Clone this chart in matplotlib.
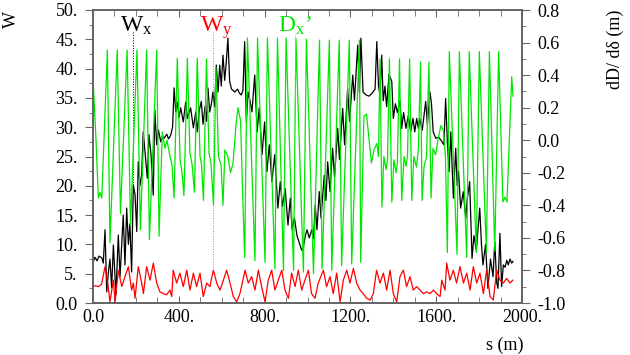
import numpy as np
import matplotlib
matplotlib.use("Agg")
import matplotlib.pyplot as plt
from matplotlib.ticker import MultipleLocator
from matplotlib.transforms import blended_transform_factory

plt.rcParams['font.family'] = ['Liberation Serif', 'DejaVu Serif']
plt.rcParams['mathtext.fontset'] = 'custom'
plt.rcParams['mathtext.rm'] = 'Liberation Serif'
plt.rcParams['mathtext.it'] = 'Liberation Serif:italic'

# chromatic function W_x (s [m], W)
wx_pts = [(1, 7.0), (9, 7.8), (19, 7.2), (28, 8.0), (41, 7.7), (48, 6.8), (56, 12.5),
          (64, 1.9), (71, 5.0), (79, 7.5), (87, 2.6), (95, 9.9), (107, 1.4), (118, 11.6),
          (126, 4.5), (141, 15.0), (149, 6.5), (157, 16.2), (165, 10.0), (172, 13.5),
          (180, 5.3), (188, 20.1), (196, 18.5), (204, 12.2), (211, 24.1), (219, 20.0),
          (227, 22.0), (234, 29.2), (242, 26.0), (253, 21.3), (261, 28.7), (270, 25.5),
          (281, 18.4), (288, 33.0), (297, 27.0), (305, 29.5), (316, 27.5), (324, 28.5),
          (331, 28.1), (344, 28.8), (352, 28.0), (362, 28.6), (371, 30.0), (378, 36.7),
          (386, 32.6), (393, 34.3), (401, 31.7), (409, 33.3), (421, 30.9), (432, 34.3),
          (440, 31.5), (455, 33.3), (468, 29.9), (479, 32.6), (486, 29.2), (496, 33.0),
          (505, 34.4), (513, 30.5), (522, 33.5), (529, 31.0), (536, 36.7), (544, 32.6),
          (552, 34.0), (559, 36.0), (567, 33.5), (575, 40.6), (583, 36.0), (591, 40.6),
          (598, 37.0), (606, 42.3), (614, 38.0), (621, 41.0), (629, 45.2), (637, 37.8),
          (646, 36.5), (661, 36.0), (674, 36.5), (683, 35.8), (691, 35.5), (699, 36.3),
          (707, 44.6), (715, 30.9), (723, 36.0), (732, 34.5), (741, 32.6), (754, 38.9),
          (765, 29.2), (775, 33.3), (788, 25.3), (800, 30.9), (811, 22.4), (822, 27.0),
          (834, 20.7), (847, 25.3), (862, 16.2), (873, 20.7), (883, 16.5), (896, 19.5),
          (909, 13.3), (920, 17.9), (928, 12.5), (939, 14.5), (951, 11.5), (960, 10.5),
          (973, 9.0), (981, 9.6), (990, 11.5), (998, 12.5), (1008, 11.1), (1020, 12.5),
          (1028, 11.0), (1036, 16.7), (1044, 12.5), (1055, 19.0), (1063, 14.5), (1078, 21.8),
          (1086, 17.5), (1094, 24.1), (1105, 19.0), (1117, 26.4), (1126, 21.5), (1141, 29.8),
          (1149, 24.5), (1164, 33.2), (1173, 27.0), (1187, 36.6), (1196, 31.0), (1211, 38.9),
          (1219, 34.6), (1234, 44.0), (1242, 36.0), (1249, 45.2), (1259, 36.0), (1273, 35.5),
          (1287, 35.3), (1301, 35.8), (1315, 36.5), (1323, 44.6), (1331, 37.0), (1338, 35.5),
          (1346, 42.3), (1353, 34.5), (1361, 37.0), (1369, 33.5), (1380, 39.0), (1393, 37.8),
          (1400, 31.5), (1410, 34.0), (1419, 32.5), (1431, 34.5), (1439, 29.8), (1448, 32.5),
          (1459, 29.8), (1470, 32.0), (1481, 29.3), (1492, 31.5), (1500, 29.2), (1509, 31.5),
          (1517, 29.8), (1523, 31.5), (1535, 29.5), (1551, 34.4), (1559, 30.5), (1571, 36.0),
          (1578, 34.0), (1586, 29.2), (1598, 28.1), (1611, 28.3), (1622, 27.8), (1636, 27.0),
          (1644, 34.9), (1652, 27.5), (1660, 22.4), (1668, 29.2), (1680, 17.9), (1691, 26.4),
          (1698, 20.0), (1704, 22.5), (1714, 16.2), (1726, 19.0), (1738, 14.5), (1744, 17.5),
          (1756, 20.7), (1767, 7.6), (1776, 11.5), (1787, 9.0), (1803, 16.2), (1811, 10.0),
          (1818, 6.5), (1830, 10.0), (1841, 2.5), (1853, 7.5), (1865, 4.5), (1873, 10.5),
          (1882, 3.5), (1888, 2.5), (1897, 11.9), (1905, 2.8), (1913, 6.5), (1921, 6.1),
          (1929, 7.3), (1936, 6.5), (1944, 7.5), (1952, 6.8), (1958, 7.1)]

# chromatic function W_y (s [m], W)
wy_pts = [(0, 3.0), (25, 2.8), (40, 3.2), (56, 6.2), (71, 2.8), (79, 0.2), (95, 3.9),
          (103, 0.2), (118, 5.6), (134, 2.8), (149, 4.5), (165, 6.2), (180, 2.2), (188, 3.4),
          (196, 0.8), (211, 6.2), (227, 3.4), (235, 1.6), (250, 6.2), (266, 3.9), (281, 6.8),
          (297, 3.4), (312, 1.9), (328, 1.6), (343, 1.4), (359, 2.2), (367, 1.1), (374, 5.6),
          (390, 3.4), (405, 5.1), (421, 2.8), (437, 5.6), (452, 2.2), (468, 5.1), (483, 2.8),
          (499, 5.1), (514, 1.1), (530, 3.4), (545, 2.8), (561, 5.6), (577, 3.4), (592, 2.2),
          (608, 3.9), (623, 5.6), (639, 3.4), (654, 1.1), (670, 0.2), (685, 1.6), (709, 5.6),
          (724, 3.4), (740, 4.5), (755, 2.2), (771, 5.6), (786, 2.8), (802, 0.2), (817, 3.9),
          (833, 5.6), (848, 2.2), (864, 3.9), (880, 5.6), (895, 2.2), (911, 0.8), (926, 5.1),
          (942, 2.8), (957, 5.6), (973, 2.2), (988, 3.9), (1004, 5.6), (1019, 1.6), (1035, 0.8),
          (1050, 3.4), (1074, 5.6), (1089, 2.8), (1105, 4.5), (1120, 1.6), (1136, 5.1),
          (1152, 0.2), (1167, 3.9), (1183, 5.6), (1198, 3.4), (1214, 5.9), (1229, 3.4),
          (1245, 2.2), (1260, 1.6), (1276, 0.8), (1292, 0.5), (1307, 1.6), (1322, 5.6),
          (1338, 3.4), (1354, 5.1), (1369, 2.2), (1385, 5.6), (1400, 1.6), (1416, 0.2),
          (1431, 4.5), (1447, 5.6), (1462, 2.8), (1478, 4.5), (1493, 2.2), (1509, 2.8),
          (1525, 2.2), (1540, 1.6), (1556, 1.9), (1571, 1.6), (1587, 2.2), (1602, 1.6),
          (1618, 1.1), (1626, 3.9), (1641, 2.2), (1649, 6.8), (1664, 3.9), (1680, 5.6),
          (1695, 3.4), (1711, 6.2), (1727, 3.4), (1742, 5.1), (1758, 2.2), (1773, 6.2),
          (1789, 3.4), (1804, 5.1), (1820, 1.6), (1835, 5.6), (1851, 1.1), (1866, 0.5),
          (1882, 5.6), (1897, 3.9), (1913, 3.4), (1928, 4.2), (1944, 3.4), (1957, 3.9)]

# dD/d(delta), right axis (s [m], m)
dx_pts = [(1, 0.36), (14, 0.0), (25, -0.355), (33, -0.32), (41, -0.355), (67, 0.554),
          (79, -0.63), (113, 0.554), (128, -0.45), (159, 0.554), (175, -0.52), (205, 0.554),
          (221, -0.55), (250, 0.554), (263, -0.61), (297, 0.554), (308, -0.59), (323, 0.05),
          (336, -0.05), (345, 0.0), (359, -0.1), (368, -0.15), (378, -0.355), (393, 0.503),
          (406, -0.12), (415, -0.2), (424, -0.34), (440, 0.503), (452, -0.08), (462, -0.15),
          (473, -0.32), (486, 0.503), (499, -0.1), (506, -0.15), (515, -0.37), (529, 0.5),
          (541, -0.08), (550, -0.14), (562, -0.4), (573, 0.45), (585, -0.1), (597, -0.15),
          (606, -0.40), (615, -0.06), (629, -0.1), (641, -0.2), (653, -0.14), (667, 0.1),
          (676, 0.2), (688, 0.12), (697, -0.3), (707, -0.72), (720, 0.628), (755, -0.74),
          (767, 0.628), (802, -0.75), (813, 0.628), (848, -0.79), (860, 0.628), (888, -0.80),
          (900, 0.628), (935, -0.80), (946, 0.628), (981, -0.81), (995, 0.62), (1028, -0.82),
          (1056, 0.615), (1068, -0.79), (1102, 0.615), (1113, -0.80), (1148, 0.615),
          (1159, -0.77), (1195, 0.615), (1206, -0.76), (1242, 0.615), (1248, -0.75),
          (1263, 0.15), (1275, 0.16), (1287, 0.0), (1298, -0.14), (1310, -0.06), (1323, -0.02),
          (1331, -0.1), (1338, 0.5), (1347, -0.41), (1356, -0.1), (1366, -0.18), (1373, -0.12),
          (1382, 0.5), (1393, -0.38), (1403, -0.12), (1413, -0.2), (1419, -0.14), (1429, 0.5),
          (1439, -0.37), (1450, -0.1), (1459, -0.16), (1466, -0.1), (1476, 0.5), (1486, -0.37),
          (1496, -0.1), (1508, -0.165), (1517, -0.05), (1527, 0.48), (1534, -0.37),
          (1543, -0.165), (1555, -0.1), (1566, 0.48), (1576, -0.355), (1585, -0.05),
          (1597, -0.09), (1608, 0.0), (1622, 0.09), (1634, 0.06), (1643, -0.1), (1652, -0.69),
          (1661, 0.544), (1697, -0.70), (1708, 0.544), (1742, -0.72), (1754, 0.544),
          (1787, -0.69), (1801, 0.544), (1834, -0.69), (1848, 0.544), (1873, -0.68),
          (1891, 0.544), (1911, -0.38), (1921, -0.35), (1930, -0.38), (1952, 0.39), (1958, 0.27)]

s_ticks = [0, 400, 800, 1200, 1600, 2000]
s_labels = ['0.0', '400.', '800.', '1200.', '1600.', '2000.']
w_labels = ['0.0', '5.', '10.', '15.', '20.', '25.', '30.', '35.', '40.', '45.', '50.']
d_labels = ['-1.0', '-0.8', '-0.6', '-0.4', '-0.2', '0.0', '0.2', '0.4', '0.6', '0.8']

# where the curve names sit
label_s = {'wx': 188, 'wy': 561, 'dx': 943}

wx_s, wx_w = np.array(wx_pts).T
wy_s, wy_w = np.array(wy_pts).T
dx_s, dx_d = np.array(dx_pts).T

frame = '#666666'
fig = plt.figure(figsize=(6.3, 3.55), dpi=100)
ax = fig.add_axes([93/630, 1 - 303/355, 429/630, 293/355])
ax2 = ax.twinx()

ax.plot(wx_s, wx_w, color='black', lw=0.9)
ax.plot(wy_s, wy_w, color='#ff0000', lw=0.9)
ax2.plot(dx_s, dx_d, color='#00e600', lw=0.9)

ax.set_xlim(0, 2000)
ax.set_ylim(0, 50)
ax2.set_ylim(-1.0, 0.8)

ax.set_xticks(s_ticks)
ax.set_xticklabels(s_labels)
ax.set_yticks(np.arange(0, 51, 5))
ax.set_yticklabels(w_labels)
ax2.set_yticks(np.arange(-1.0, 0.81, 0.2))
ax2.set_yticklabels(d_labels)
ax.xaxis.set_minor_locator(MultipleLocator(100))
ax.yaxis.set_minor_locator(MultipleLocator(2.5))
ax2.yaxis.set_minor_locator(MultipleLocator(0.1))

for a in (ax, ax2):
    for sp in a.spines.values():
        sp.set_color(frame)
        sp.set_linewidth(1.3)
ax.tick_params(axis='x', which='both', direction='in', top=True, bottom=True,
               color=frame, labelsize=13, pad=4)
ax.tick_params(axis='x', which='major', length=5)
ax.tick_params(axis='x', which='minor', length=4)
ax.tick_params(axis='y', which='both', direction='out', color=frame, labelsize=13, pad=5)
ax.tick_params(axis='y', which='major', length=6)
ax.tick_params(axis='y', which='minor', length=3)
ax2.tick_params(axis='y', which='both', direction='out', color=frame, labelsize=13, pad=5)
ax2.tick_params(axis='y', which='major', length=6)
ax2.tick_params(axis='y', which='minor', length=3)

# curve names with pointer lines
tr = blended_transform_factory(ax.transData, ax.transAxes)
ax.text(label_s['wx'] - 62, 0.925, r'$\mathrm{W_x}$', color='black', fontsize=17,
        transform=tr, va='baseline', ha='left')
ax.text(label_s['wy'] - 62, 0.925, r'$\mathrm{W_y}$', color='#ff0000', fontsize=17,
        transform=tr, va='baseline', ha='left')
ax.text(label_s['dx'] - 81, 0.925, r'$\mathrm{D_x}$’', color='#00e600', fontsize=17,
        transform=tr, va='baseline', ha='left')

top_w = 46.2
top_d = -1.0 + 1.8 * top_w / 50
ax.plot([label_s['wx']] * 2, [np.interp(label_s['wx'], wx_s, wx_w), top_w],
        color='black', lw=0.7, ls=':')
ax.plot([label_s['wy']] * 2, [np.interp(label_s['wy'], wy_s, wy_w), top_w],
        color='#ff6060', lw=0.7, ls=':')
ax2.plot([label_s['dx']] * 2, [np.interp(label_s['dx'], dx_s, dx_d), top_d],
         color='#80f080', lw=0.7, ls=':')

fig.text(0.004, 0.97, 'W', rotation=90, fontsize=13, va='top', ha='left')
fig.text(615/630, 1 - 10/355, 'dD/ dδ (m)', rotation=90, fontsize=13, va='top', ha='center')
fig.text(523/630, 1 - 345/355, 's (m)', fontsize=13, va='center', ha='right')

fig.savefig('out.png', dpi=100)
